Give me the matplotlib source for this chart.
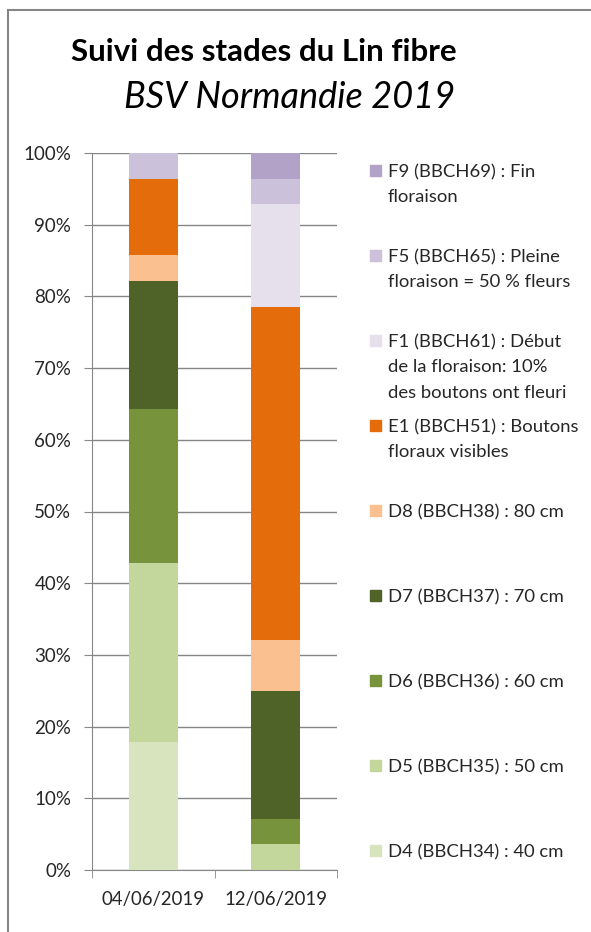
import matplotlib.pyplot as plt
from matplotlib.patches import Rectangle
import numpy as np

plt.rcParams['font.family'] = ['Lato', 'DejaVu Sans']

# data (number of plots at each stage, 28 per date)
dates = ["04/06/2019", "12/06/2019"]
stages = [
    "D4 (BBCH34) : 40 cm",
    "D5 (BBCH35) : 50 cm",
    "D6 (BBCH36) : 60 cm",
    "D7 (BBCH37) : 70 cm",
    "D8 (BBCH38) : 80 cm",
    "E1 (BBCH51) : Boutons\nfloraux visibles",
    "F1 (BBCH61) : Début\nde la floraison: 10%\ndes boutons ont fleuri",
    "F5 (BBCH65) : Pleine\nfloraison = 50 % fleurs",
    "F9 (BBCH69) : Fin\nfloraison",
]
counts_0406 = [5, 7, 6, 5, 1, 3, 0, 1, 0]
counts_1206 = [0, 1, 1, 5, 2, 13, 4, 1, 1]
colors = ["#d7e4bd", "#c3d69b", "#77933c", "#4f6228", "#fac090",
          "#e46c0a", "#e6e0ec", "#ccc1da", "#b3a2c7"]

W, H = 591, 932
fig = plt.figure(figsize=(W / 100, H / 100), dpi=100)

# outer frame
fig.patches.append(Rectangle((8 / W, -0.05), 1.2, (H - 10) / H + 0.05,
                             transform=fig.transFigure, fill=False,
                             edgecolor="#868686", lw=1.5))

ax = fig.add_axes([92 / W, 1 - 870 / H, 245 / W, (870 - 153) / H])

data = np.array([counts_0406, counts_1206], dtype=float)
pct = data / data.sum(axis=1, keepdims=True) * 100
x = np.arange(len(dates))
bottom = np.zeros(len(dates))
for i in range(len(stages)):
    ax.bar(x, pct[:, i], bottom=bottom, width=0.4, color=colors[i], zorder=3)
    bottom += pct[:, i]

ax.set_xlim(-0.5, 1.5)
ax.set_ylim(0, 100)
ax.set_yticks(np.arange(0, 101, 10))
ax.set_yticklabels([f"{v}%" for v in range(0, 101, 10)], fontsize=13.5, color="#262626")
ax.set_xticks(x)
ax.set_xticklabels(dates, fontsize=13.4, color="#262626")
ax.tick_params(axis="x", length=0, pad=15)
ax.tick_params(axis="y", length=6, color="#868686", pad=9)
# category boundary ticks
ax.set_xticks([-0.5, 0.5, 1.5], minor=True)
ax.tick_params(axis="x", which="minor", length=6, color="#868686")
ax.grid(axis="y", color="#868686", lw=1, zorder=0)
for s in ["top", "right"]:
    ax.spines[s].set_visible(False)
for s in ["left", "bottom"]:
    ax.spines[s].set_color("#868686")

# title
fig.text(264 / W, 1 - 52 / H, "Suivi des stades du Lin fibre", ha="center", va="center",
         fontsize=22.5, fontweight="bold")
fig.text(290 / W, 1 - 98 / H, "BSV Normandie 2019", ha="center", va="center",
         fontsize=26, fontstyle="italic")

# legend, top entry is the last stage
for k, i in enumerate(range(len(stages) - 1, -1, -1)):
    y = 170 + 85 * k
    fig.patches.append(Rectangle((370 / W, 1 - (y + 6) / H), 11 / W, 11 / H,
                                 transform=fig.transFigure, color=colors[i]))
    fig.text(388 / W, 1 - (y - 6) / H, stages[i], ha="left", va="top",
             fontsize=13.3, color="#262626", linespacing=1.72)

fig.savefig("out.png", dpi=100)
